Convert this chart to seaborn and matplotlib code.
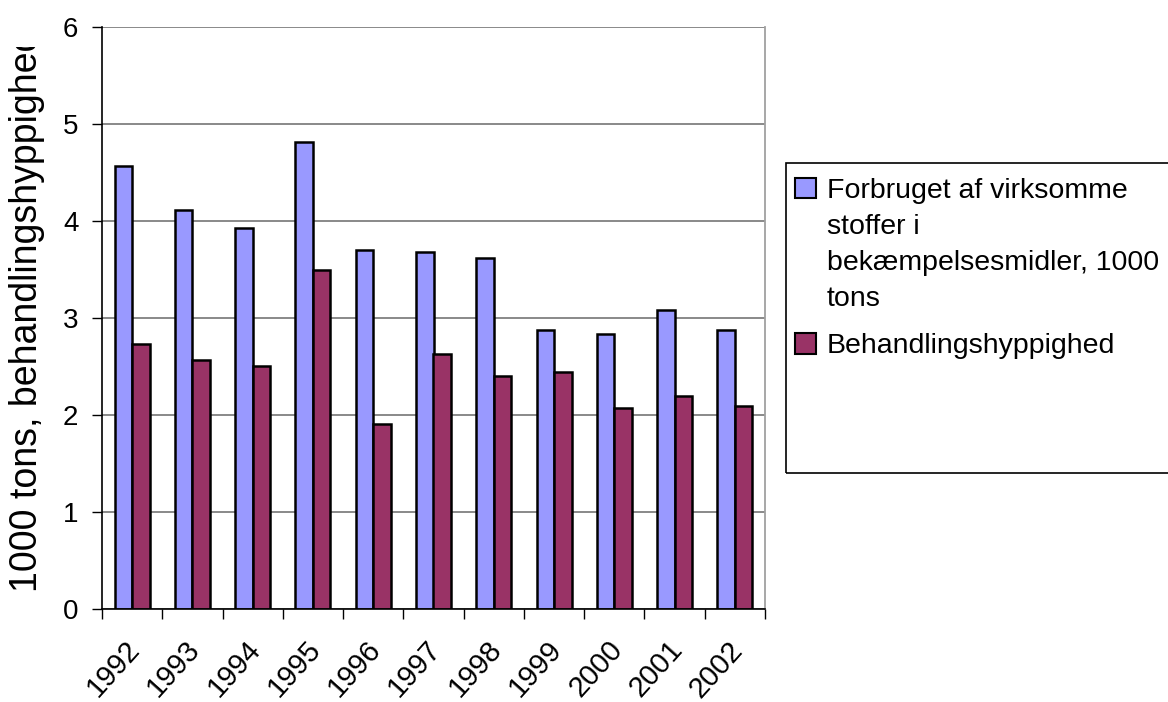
import numpy as np
import pandas as pd
import matplotlib
matplotlib.use("Agg")
import matplotlib.pyplot as plt
import seaborn as sns
from matplotlib.patches import Patch, Rectangle
from matplotlib.transforms import Bbox, TransformedBbox, ScaledTranslation

# data
years = ['1992', '1993', '1994', '1995', '1996', '1997', '1998', '1999', '2000', '2001', '2002']
forbrug = [4.57, 4.11, 3.93, 4.81, 3.70, 3.68, 3.62, 2.88, 2.84, 3.08, 2.88]
behandling = [2.73, 2.57, 2.51, 3.49, 1.91, 2.63, 2.40, 2.44, 2.07, 2.20, 2.09]
series = ['Forbruget af virksomme\nstoffer i\nbekæmpelsesmidler, 1000\ntons',
          'Behandlingshyppighed']
colors = ['#9999FF', '#993366']
ylabel = '1000 tons, behandlingshyppighed'

df = pd.DataFrame({
    'year': years * 2,
    'value': forbrug + behandling,
    'serie': [series[0]] * len(years) + [series[1]] * len(years),
})

sns.set_style('white')
plt.rcParams['font.family'] = ['Liberation Sans', 'DejaVu Sans']
plt.rcParams.update({'text.color': 'black', 'xtick.color': 'black',
                     'ytick.color': 'black', 'axes.labelcolor': 'black'})

W, H = 1168, 702
fig = plt.figure(figsize=(W / 100, H / 100), dpi=100)
ax = fig.add_axes([102 / W, 1 - 609 / H, (765 - 102) / W, (609 - 27) / H])

sns.barplot(data=df, x='year', y='value', hue='serie', palette=colors, saturation=1,
            width=0.58, edgecolor='black', linewidth=1.8, ax=ax, legend=False)

ax.set_ylim(0, 6)
ax.set_xlim(-0.5, len(years) - 0.5)
ax.set_yticks(range(0, 7))
ax.yaxis.grid(True, color='#808080', linewidth=1.3)
ax.set_axisbelow(True)
ax.set_xlabel('')
ax.set_ylabel('')

for side in ['left', 'bottom']:
    ax.spines[side].set_color('black')
    ax.spines[side].set_linewidth(1.2)
ax.spines['top'].set_visible(False)
ax.spines['right'].set_color('#a0a0a0')
ax.spines['right'].set_linewidth(1.3)

ax.tick_params(axis='y', direction='out', length=7, width=1, color='black',
               labelsize=20, pad=10, left=True)
ax.set_xticks(range(len(years)))
ax.set_xticklabels(years, rotation=48, ha='right', va='center', rotation_mode='anchor')
ax.tick_params(axis='x', which='major', length=0, labelsize=21, pad=26)
ax.set_xticks(np.arange(-0.5, len(years), 1), minor=True)
ax.tick_params(axis='x', which='minor', direction='out', length=7, width=1,
               color='black', bottom=True)
for lab in ax.get_xticklabels():
    lab.set_transform(lab.get_transform() + ScaledTranslation(3 / 100, 0, fig.dpi_scale_trans))

# y label, cut off at the top like in the original
t = fig.text(27 / W, 1 - 592 / H, ylabel, rotation=90, ha='center', va='bottom', fontsize=27)
t.set_clip_box(TransformedBbox(Bbox([[0, 0], [1, 1 - 47 / H]]), fig.transFigure))
t.set_clip_on(True)

# legend
handles = [Patch(facecolor=c, edgecolor='black', linewidth=1.5) for c in colors]
leg = fig.legend(handles, series, loc='upper left', bbox_to_anchor=(795 / W, 1 - 178 / H),
                 frameon=False, fontsize=20.5, handlelength=0.72, handleheight=0.72,
                 handletextpad=0.4, labelspacing=0.75, borderpad=0, borderaxespad=0)
for t in leg.get_texts():
    t.set_linespacing(1.5)
for col in leg._legend_handle_box.get_children():
    for item in col.get_children():
        item.align = 'top'
fig.patches.append(Rectangle((786 / W, 1 - 473 / H), 400 / W, 310 / H, transform=fig.transFigure,
                             fill=False, edgecolor='black', linewidth=1.2))

fig.savefig('out.png', dpi=100)
